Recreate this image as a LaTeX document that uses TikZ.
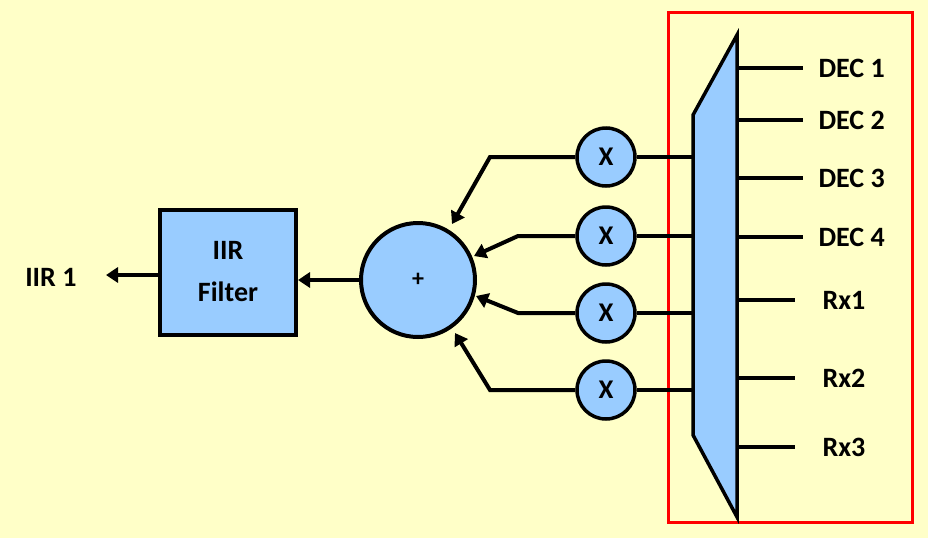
\documentclass[tikz,border=0pt]{standalone}
\usepackage{fontspec}
\setmainfont{Carlito}
\usetikzlibrary{arrows.meta}
\definecolor{bg}{HTML}{FFFFC8}
\definecolor{blk}{HTML}{99CCFF}
\begin{document}
\begin{tikzpicture}[x=1pt,y=-1pt,
  wire/.style={line width=4pt},
  arr/.style={wire,-{Triangle[length=12pt,width=15pt]}},
  mul/.style={circle,draw,line width=3.5pt,fill=blk,minimum size=58pt,inner sep=0pt,font=\bfseries\fontsize{27}{29}\selectfont},
  lab/.style={font=\bfseries\fontsize{28}{30}\selectfont,anchor=west}]
\fill[bg] (0,0) rectangle (928,538);
\useasboundingbox (0,0) rectangle (928,538);
\draw[red,line width=3pt] (668,12) rectangle (912,522);
% mux
\draw[line width=3.5pt,fill=blk] (693,115) -- (737,35) -- (737,517) -- (693,435) -- cycle;
\foreach \y/\t/\e/\g [count=\i] in {68/DEC 1/803/12,120/DEC 2/803/12,178/DEC 3/803/12,237/DEC 4/803/12,300/Rx1/795/24,378/Rx2/795/24,447/Rx3/795/24}{
  \coordinate (o\i) at (\e,\y);
  \draw[wire] (737,\y) -- (o\i);
  \node[lab] (t\i) at (\e+\g,\y) {\t};
}
% sum
\node[circle,draw,line width=4pt,fill=blk,minimum size=114pt,inner sep=0pt,font=\bfseries\fontsize{24}{26}\selectfont] (s) at (418,280) {+};
\foreach \y [count=\i] in {157,236,313,390}{
  \node[mul] (x\i) at (606,\y) {X};
  \coordinate (mx\i) at (693,\y);
  \draw[wire] (x\i.east) -- (mx\i);
}
\draw[arr] (x1.west) -- (490,157) -- (452,224);
\draw[arr] (x2.west) -- (518,236) -- (474,256);
\draw[arr] (x3.west) -- (518,313) -- (476,296);
\draw[arr] (x4.west) -- (490,390) -- (455,333);
% IIR
\node[draw,line width=4pt,fill=blk,minimum width=136pt,minimum height=125pt,align=center,font=\bfseries\fontsize{28}{42}\selectfont] (f) at (228,272) {IIR\\Filter};
\draw[arr] (s.west) -- (f.east |- s.west);
\node[font=\bfseries\fontsize{28}{30}\selectfont,anchor=east] (out) at (80,277) {IIR 1};
\coordinate (oa) at (106,275);
\draw[arr] (f.west |- oa) -- (oa);
\end{tikzpicture}
\end{document}
